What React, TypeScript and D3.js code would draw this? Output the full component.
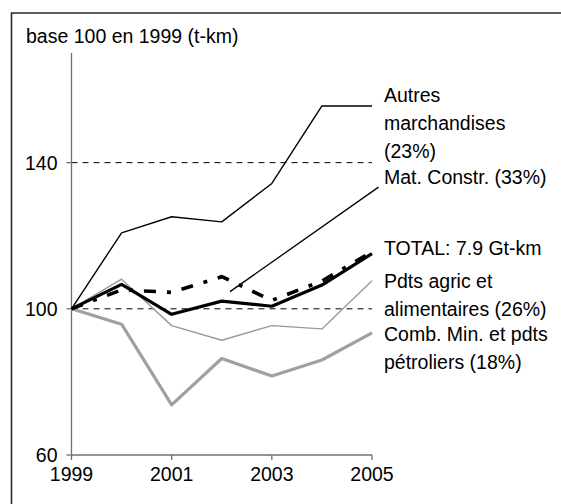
import React from "react";
import * as d3 from "d3";

const years = [1999, 2000, 2001, 2002, 2003, 2004, 2005];
const autres = [100, 120.8, 125.2, 123.8, 134.3, 155.5, 155.5];
const matConstr = [100, 105.2, 104.5, 108.8, 102.3, 107.6, 115.6];
const total = [100, 106.7, 98.5, 102.1, 100.7, 106.5, 115.1];
const agric = [100, 108.1, 95.4, 91.4, 95.4, 94.5, 107.7];
const comb = [100, 95.8, 73.7, 86.4, 81.6, 86.0, 93.4];

const yTicks = [60, 100, 140];
const xTicks = [1999, 2001, 2003, 2005];
const gridValues = [100, 140];
const matLeader = [
  { year: 2002.165, value: 104.7 },
  { year: 2005.13, value: 133.3 },
];

const labels = [
  { lines: ["Autres", "marchandises", "(23%)"], baseline: 101.5 },
  { lines: ["Mat. Constr. (33%)"], baseline: 184 },
  { lines: ["TOTAL: 7.9 Gt-km"], baseline: 255 },
  { lines: ["Pdts agric et", "alimentaires (26%)"], baseline: 287.5 },
  { lines: ["Comb. Min. et pdts", "pétroliers (18%)"], baseline: 341 },
];

const W = 561;
const H = 504;
const FONT = "'Liberation Sans', Arial, sans-serif";
const FS = 19.5;

export default function App() {
  const x = d3.scaleLinear().domain([1999, 2005]).range([71.5, 372]);
  const y = d3.scaleLinear().domain([60, 170]).range([455, 53]);
  const line = d3
    .line<number>()
    .x((_, i) => x(years[i]))
    .y((d) => y(d));
  const leader = d3
    .line<{ year: number; value: number }>()
    .x((d) => x(d.year))
    .y((d) => y(d.value));

  const axisColor = "#707070";

  return (
    <svg
      width={W}
      height={H}
      style={{ position: "absolute", left: 0, top: 0, background: "#fff" }}
      fontFamily={FONT}
    >
      <rect x={0} y={0} width={W} height={H} fill="#fff" />
      {/* outer frame */}
      <path d={`M11.5,${H + 5} V13 H${W + 5}`} fill="none" stroke="#2a2a2a" strokeWidth={1.6} />

      {/* title */}
      <text x={26} y={43} fontSize={FS} fill="#000">
        base 100 en 1999 (t-km)
      </text>

      {/* gridlines */}
      {gridValues.map((v) => (
        <line
          key={v}
          x1={x(1999)}
          x2={x(2005)}
          y1={y(v)}
          y2={y(v)}
          stroke="#000"
          strokeWidth={1}
          strokeDasharray="6,5"
        />
      ))}

      {/* axes */}
      <line x1={x(1999)} x2={x(1999)} y1={y(170)} y2={y(60)} stroke={axisColor} strokeWidth={1.3} />
      <line x1={x(1999)} x2={x(2005)} y1={y(60)} y2={y(60)} stroke={axisColor} strokeWidth={1.3} />
      {yTicks.map((t) => (
        <g key={t}>
          <line x1={x(1999) - 5} x2={x(1999)} y1={y(t)} y2={y(t)} stroke={axisColor} strokeWidth={1.3} />
          <text x={x(1999) - 14} y={y(t)} dy="0.36em" textAnchor="end" fontSize={FS} fill="#000">
            {t}
          </text>
        </g>
      ))}
      {xTicks.map((t) => (
        <g key={t}>
          <line x1={x(t)} x2={x(t)} y1={y(60)} y2={y(60) + 5} stroke={axisColor} strokeWidth={1.3} />
          <text x={x(t)} y={481} textAnchor="middle" fontSize={FS} fill="#000">
            {t}
          </text>
        </g>
      ))}

      {/* series */}
      <path d={line(comb) || ""} fill="none" stroke="#a0a0a0" strokeWidth={3.2} strokeLinejoin="round" />
      <path d={line(agric) || ""} fill="none" stroke="#9a9a9a" strokeWidth={1.4} strokeLinejoin="round" />
      <path d={line(autres) || ""} fill="none" stroke="#000" strokeWidth={1.4} strokeLinejoin="round" />
      <path
        d={line(matConstr) || ""}
        fill="none"
        stroke="#000"
        strokeWidth={3.6}
        strokeDasharray="12,11,4,11"
      />
      <path d={line(total) || ""} fill="none" stroke="#000" strokeWidth={3.2} strokeLinejoin="round" />
      <path d={leader(matLeader) || ""} fill="none" stroke="#000" strokeWidth={1.3} />

      {/* labels */}
      {labels.map((l, i) => (
        <text key={i} x={384} y={l.baseline} fontSize={FS} fill="#000">
          {l.lines.map((s, j) => (
            <tspan key={j} x={384} dy={j === 0 ? 0 : 28}>
              {s}
            </tspan>
          ))}
        </text>
      ))}
    </svg>
  );
}
